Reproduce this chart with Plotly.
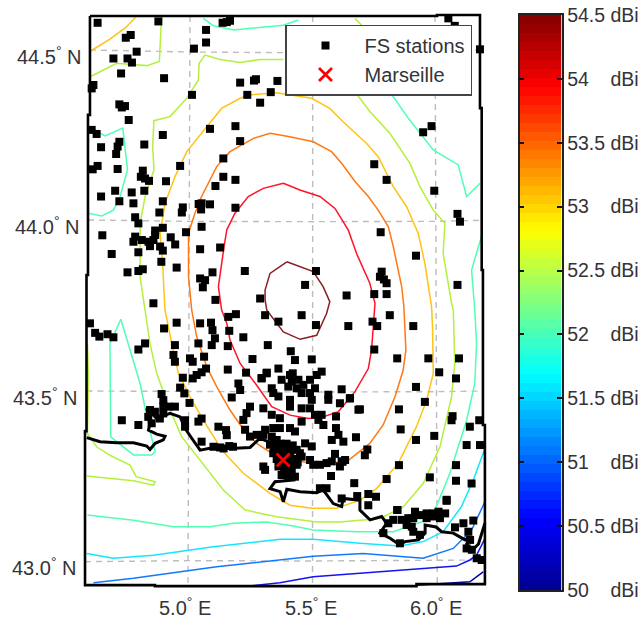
import plotly.graph_objects as go

FONT = "Liberation Sans, Arial, sans-serif"
TEXT = "#333338"

stations_north = [(4.630,44.583),(4.876,44.587),(5.136,44.583),(5.153,44.585),(5.166,44.589),(5.069,44.562),(5.069,44.525),(5.020,44.507),(4.764,44.547),(4.744,44.539),(4.788,44.498),(4.694,44.478),(4.751,44.478),(4.769,44.466),(4.725,44.434),(4.899,44.420),(4.613,44.400),(4.606,44.390),(5.207,44.407),(5.263,44.413),(5.271,44.417),(5.358,44.412),(5.331,44.379),(5.236,44.371),(5.288,44.348),(5.012,44.371),(4.718,44.343),(4.728,44.334),(4.741,44.338),(4.756,44.297),(4.606,44.268),(4.626,44.256),(4.894,44.253),(5.085,44.271),(5.188,44.279),(5.207,44.235),(4.819,44.225),(4.644,44.217),(4.718,44.233),(4.711,44.219),(4.705,44.197),(5.139,44.184),(4.964,44.162),(4.630,44.162),(4.610,44.152),(4.711,44.153),(4.813,44.148),(4.805,44.130),(4.822,44.125),(4.838,44.118),(4.907,44.117),(5.139,44.130),(5.188,44.121),(5.107,44.103),(4.701,44.089),(4.768,44.084),(4.819,44.089),(4.644,44.072),(4.718,44.058),(4.775,44.052),(4.894,44.058),(4.975,44.040),(4.971,44.025),(4.880,44.025),(5.051,44.052),(5.039,44.050),(5.049,44.034),(5.085,44.049),(5.188,44.039),(4.782,44.011),(4.795,43.993),(4.863,43.972),(4.894,43.980),(4.863,43.959),(5.051,43.983),(4.988,43.967),(4.649,43.958),(4.782,43.954),(4.775,43.939),(4.809,43.944),(4.836,43.939),(4.856,43.944),(4.842,43.926),(4.883,43.925),(4.926,43.952),(4.944,43.931),(4.894,43.913),(5.045,43.917),(5.126,43.922),(4.795,43.908),(4.687,43.903),(4.888,43.880),(4.950,43.863),(4.795,43.853),(4.813,43.858),(4.751,43.849),(5.045,43.831),(5.065,43.826),(5.056,43.805),(5.095,43.849),(5.226,43.853),(5.470,43.812),(5.514,43.853),(5.288,43.772),(5.107,43.768),(4.856,43.758)]

stations_northeast = [(6.050,44.596),(6.076,44.574),(5.688,44.383),(5.672,44.383),(6.178,44.505),(5.982,44.279),(5.948,44.261),(5.750,44.167),(5.800,44.121),(5.993,44.089),(6.087,44.021),(6.097,43.998),(5.776,43.967),(5.919,43.898),(5.780,43.851),(5.773,43.836),(5.789,43.828),(5.800,43.817),(6.087,43.812),(5.638,43.781),(5.750,43.785),(5.800,43.785)]

stations_southwest = [(4.599,43.699),(4.620,43.671),(4.637,43.660),(4.670,43.667),(4.694,43.658),(4.822,43.640),(4.795,43.622),(4.899,43.684),(4.950,43.701),(5.045,43.699),(5.089,43.701),(5.095,43.679),(5.105,43.655),(5.092,43.635),(5.163,43.677),(5.159,43.718),(5.190,43.726),(5.308,43.723),(5.362,43.704),(5.456,43.723),(5.514,43.694),(4.943,43.635),(5.038,43.640),(5.157,43.632),(5.220,43.658),(5.319,43.635),(5.412,43.617),(5.257,43.594),(5.429,43.591),(5.497,43.593),(4.937,43.606),(4.943,43.586),(5.004,43.596),(5.015,43.586),(5.061,43.601),(5.069,43.566),(5.051,43.555),(5.031,43.547),(5.015,43.537),(4.975,43.539),(5.157,43.563),(5.231,43.554),(5.315,43.554),(5.294,43.537),(5.362,43.566),(5.420,43.552),(5.200,43.522),(5.207,43.503),(4.964,43.510),(4.981,43.493),(5.002,43.465),(5.173,43.481),(5.051,43.419),(5.038,43.410),(5.119,43.395),(5.150,43.385),(5.153,43.370),(5.051,43.351),(5.099,43.336),(5.126,43.334),(5.163,43.338),(4.728,43.414),(4.795,43.400)]

stations_berre = [(4.842,43.444),(4.862,43.439),(4.882,43.419),(4.835,43.424),(4.849,43.405),(4.889,43.491),(4.896,43.473),(4.896,43.454),(4.896,43.434),(4.916,43.454),(4.943,43.454),(4.984,43.414),(4.984,43.395),(5.140,43.331),(5.178,43.336)]

stations_marseille = [(5.375,43.533),(5.409,43.547),(5.416,43.528),(5.443,43.533),(5.402,43.513),(5.436,43.508),(5.463,43.518),(5.490,43.533),(5.517,43.547),(5.537,43.557),(5.510,43.508),(5.314,43.552),(5.294,43.538),
(5.335,43.508),(5.341,43.494),(5.362,43.484),(5.409,43.474),(5.409,43.454),(5.456,43.494),(5.490,43.494),(5.497,43.474),(5.456,43.449),(5.490,43.449),(5.564,43.489),(5.564,43.474),(5.611,43.464),(5.652,43.479),(5.618,43.505),(5.686,43.445),(5.301,43.449),(5.335,43.430),(5.368,43.420),(5.456,43.410),(5.510,43.430),(5.537,43.430),(5.524,43.415),(5.544,43.400),(5.595,43.425),(5.595,43.391),(5.605,43.371),(5.625,43.351),(5.578,43.356),(5.676,43.364),
(5.247,43.454),(5.233,43.435),(5.220,43.415),(5.227,43.386),(5.247,43.366),(5.274,43.371),(5.308,43.386),(5.341,43.391),(5.368,43.391),(5.409,43.391),(5.429,43.381),(5.335,43.366),(5.301,43.371),
(5.355,43.356),(5.328,43.342),(5.382,43.337),(5.409,43.337),(5.436,43.327),(5.341,43.317),(5.456,43.307),(5.470,43.346),(5.497,43.337),(5.490,43.297),(5.362,43.278),(5.389,43.278),(5.416,43.268),(5.436,43.283),(5.375,43.253),(5.402,43.248),(5.429,43.248),(5.449,43.317),(5.301,43.278),(5.308,43.268),
(5.360,43.330),(5.385,43.315),(5.410,43.315),(5.375,43.295),(5.400,43.295),(5.425,43.300),(5.440,43.290),(5.365,43.310),(5.355,43.300),(5.345,43.330),(5.370,43.345),(5.395,43.345),(5.420,43.340),(5.385,43.265),(5.410,43.285),(5.395,43.260),(5.345,43.345),
(5.503,43.283),(5.530,43.283),(5.557,43.288),(5.591,43.315),(5.578,43.293),(5.618,43.293),(5.611,43.278),(5.632,43.297),(5.575,43.250),(5.669,43.229),(5.530,43.214),(5.557,43.214)]

stations_southeast = [(5.813,43.723),(5.645,43.691),(5.743,43.704),(5.762,43.691),(5.843,43.596),(5.969,43.596),(6.093,43.596),(5.750,43.622),(5.908,43.691),(6.013,43.555),(6.081,43.537),(5.919,43.512),(5.651,43.478),(5.955,43.468),(5.692,43.446),(5.850,43.446),(6.067,43.426),(6.063,43.414),(6.175,43.414),(6.137,43.395),(5.857,43.387),(5.993,43.368),(5.919,43.356),(6.178,43.341),(6.124,43.341),(5.722,43.328),(5.712,43.311),(6.081,43.282),(5.850,43.282),(5.622,43.292),(5.975,43.246),(5.800,43.241),(6.081,43.236),(6.144,43.228),(6.043,43.177),(5.843,43.150),(5.726,43.164),(5.757,43.189),(5.726,43.197),(5.681,43.191),(5.618,43.184)]

stations_toulon = [(5.844,43.150),(6.043,43.180),(5.915,43.145),(5.962,43.140),(5.989,43.140),(6.010,43.145),(6.037,43.140),(5.827,43.121),(5.861,43.121),(5.888,43.126),(5.908,43.126),(5.935,43.135),(5.962,43.126),(5.989,43.131),(6.016,43.126),(5.807,43.111),(5.881,43.106),(5.902,43.101),(5.908,43.086),(5.935,43.077),(5.787,43.082),(5.854,43.052),(6.077,43.099),(6.111,43.111),(6.151,43.119),(6.131,43.086),(6.138,43.062),(6.124,43.037),(6.145,43.033),(6.165,43.008),(6.185,43.003)]

marseille = (5.381, 43.297)

coastline = [(4.586,43.363),(4.640,43.351),(4.707,43.348),(4.775,43.348),(4.829,43.338),(4.842,43.328),(4.863,43.346),(4.896,43.356),(4.903,43.367),(4.869,43.373),(4.836,43.385),(4.842,43.405),(4.836,43.424),(4.829,43.449),(4.869,43.419),(4.923,43.434),(4.964,43.424),(4.984,43.390),(5.011,43.361),(5.045,43.326),(5.099,43.334),(5.166,43.331),(5.247,43.334),(5.288,43.361),(5.340,43.345),(5.423,43.238),(5.348,43.233),(5.328,43.213),(5.369,43.204),(5.382,43.174),(5.396,43.211),(5.450,43.204),(5.517,43.201),(5.543,43.209),(5.584,43.169),(5.618,43.160),(5.624,43.184),(5.692,43.179),(5.692,43.150),(5.733,43.121),(5.780,43.131),(5.800,43.111),(5.773,43.082),(5.814,43.067),(5.854,43.047),(5.875,43.057),(5.929,43.062),(5.956,43.082),(5.956,43.106),(6.000,43.100),(6.023,43.086),(6.070,43.082),(6.118,43.062),(6.138,43.072),(6.124,43.050),(6.145,43.030),(6.172,43.050),(6.198,43.111)]

contour_darkred = [[(5.396,43.880),(5.328,43.846),(5.308,43.797),(5.308,43.768),(5.315,43.738),(5.335,43.718),(5.382,43.674),(5.450,43.652),(5.517,43.664),(5.557,43.728),(5.570,43.763),(5.543,43.807),(5.503,43.851),(5.396,43.880)]]
contour_red = [[(5.382,44.111),(5.301,44.096),(5.240,44.072),(5.186,44.023),(5.153,43.974),(5.142,43.925),(5.119,43.807),(5.132,43.738),(5.153,43.699),(5.166,43.650),(5.207,43.581),(5.274,43.517),(5.335,43.454),(5.409,43.429),(5.483,43.419),(5.543,43.424),(5.604,43.439),(5.672,43.498),(5.726,43.566),(5.739,43.620),(5.746,43.689),(5.753,43.758),(5.732,43.817),(5.678,43.905),(5.645,43.973),(5.591,44.037),(5.530,44.072),(5.449,44.091),(5.382,44.111)]]
contour_orange = [[(5.328,44.258),(5.261,44.243),(5.166,44.204),(5.112,44.160),(5.051,44.072),(5.024,44.023),(4.998,43.964),(4.998,43.836),(5.011,43.738),(5.031,43.660),(5.072,43.571),(5.112,43.513),(5.166,43.444),(5.213,43.395),(5.274,43.346),(5.355,43.307),(5.496,43.287),(5.638,43.292),(5.732,43.346),(5.786,43.400),(5.834,43.483),(5.867,43.561),(5.878,43.620),(5.874,43.718),(5.870,43.748),(5.861,43.807),(5.827,43.925),(5.807,43.983),(5.766,44.032),(5.726,44.072),(5.672,44.116),(5.618,44.170),(5.577,44.204),(5.503,44.233),(5.408,44.248),(5.328,44.258)]]
contour_amber = [[(5.355,44.377),(5.247,44.371),(5.207,44.361),(5.132,44.331),(5.072,44.277),(4.991,44.204),(4.943,44.130),(4.903,44.052),(4.883,43.964),(4.894,43.866),(4.899,43.787),(4.903,43.738),(4.930,43.640),(4.957,43.552),(5.004,43.483),(5.058,43.414),(5.139,43.321),(5.220,43.258),(5.328,43.199),(5.409,43.164),(5.497,43.155),(5.597,43.155),(5.692,43.179),(5.759,43.213),(5.847,43.287),(5.921,43.395),(5.962,43.473),(5.989,43.552),(5.986,43.689),(5.982,43.748),(5.955,43.875),(5.928,43.964),(5.881,44.042),(5.827,44.101),(5.766,44.189),(5.719,44.228),(5.624,44.292),(5.570,44.331),(5.496,44.361),(5.355,44.377)],
                 [(4.602,44.500),(4.680,44.535),(4.745,44.570),(4.785,44.600)]]
contour_lime = [[(4.602,44.425),(4.707,44.464),(4.829,44.457),(4.880,44.469),(4.887,44.576),(4.889,44.600)],
                [(5.382,44.475),(5.288,44.475),(5.207,44.466),(5.126,44.475),(5.065,44.488),(5.041,44.464),(5.038,44.415),(4.991,44.361),(4.923,44.307),(4.858,44.295),(4.853,44.219),(4.858,44.150),(4.822,44.071),(4.802,43.993),(4.802,43.836),(4.822,43.733),(4.842,43.640),(4.869,43.552),(4.923,43.444),(4.971,43.365),(5.045,43.297),(5.139,43.209),(5.227,43.150),(5.355,43.130),(5.517,43.115),(5.611,43.115),(5.692,43.120),(5.773,43.125),(5.867,43.159),(5.948,43.228),(6.016,43.336),(6.063,43.483),(6.076,43.581),(6.072,43.669),(6.070,43.738),(6.063,43.758),(6.029,43.905),(6.036,43.993),(5.989,44.032),(5.935,44.101),(5.894,44.170),(5.813,44.258),(5.732,44.322),(5.672,44.380)],
                [(5.672,44.596),(5.699,44.576)],
                [(4.589,43.640),(4.593,43.542),(4.589,43.375),(4.626,43.336),(4.680,43.311),(4.761,43.282),(4.786,43.248),(4.863,43.233),(4.856,43.223),(4.775,43.236),(4.586,43.250)]]
contour_aqua = [[(5.058,44.596),(5.099,44.574),(5.180,44.562),(5.261,44.567),(5.382,44.576),(5.443,44.591)],
                [(4.597,44.277),(4.660,44.250),(4.732,44.273),(4.745,44.189),(4.751,44.150),(4.721,44.072),(4.694,44.032),(4.647,44.015),(4.593,44.023)],
                [(4.724,43.711),(4.680,43.640),(4.683,43.365),(4.775,43.312),(4.849,43.312),(4.863,43.321),(4.836,43.400),(4.802,43.522),(4.724,43.711)],
                [(5.813,44.380),(5.888,44.302),(5.989,44.209),(6.090,44.165),(6.124,44.072),(6.178,44.111)],
                [(6.188,43.964),(6.144,43.856),(6.157,43.738),(6.164,43.640),(6.157,43.522),(6.124,43.414),(6.056,43.258),(6.002,43.160),(5.982,43.125),(5.827,43.086),(5.678,43.086),(5.503,43.091),(5.423,43.103),(5.315,43.115),(5.180,43.111),(5.085,43.101),(4.937,43.101),(4.775,43.120),(4.589,43.135)]]
contour_cyan = [[(4.586,43.022),(4.694,43.008),(4.856,43.017),(5.099,43.042),(5.369,43.064),(5.503,43.064),(5.692,43.052),(5.854,43.044),(5.948,43.057),(6.029,43.086),(6.103,43.160),(6.151,43.238),(6.198,43.331)]]
contour_blue = [[(4.613,42.936),(4.775,42.949),(5.112,42.983),(5.368,43.002),(5.503,43.014),(5.705,43.022),(5.948,43.008),(6.070,43.037),(6.144,43.091),(6.198,43.174)]]
contour_deepblue = [[(5.240,42.926),(5.368,42.936),(5.503,42.954),(5.773,42.969),(6.083,42.985),(6.137,43.003),(6.164,43.017),(6.198,43.066)]]
contour_navy = [[(5.921,42.929),(6.137,42.939),(6.191,42.968)]]

contour_sets = [
    (contour_navy, "#0000a8"), (contour_deepblue, "#1414f0"), (contour_blue, "#1478ff"),
    (contour_cyan, "#14e6ff"), (contour_aqua, "#50ffb4"), (contour_lime, "#b4f03c"),
    (contour_amber, "#ffc314"), (contour_orange, "#ff7814"), (contour_red, "#ff1428"),
    (contour_darkred, "#8c1e23"),
]

map_frame = [(4.599,44.603),(6.004,44.603),(6.004,44.606),(6.178,44.606),(6.178,44.332),(6.185,44.332),(6.185,43.856),(6.190,43.856),(6.190,43.400),(6.198,43.400),(6.198,42.932),(5.921,42.932),(5.921,42.926),(4.862,42.926),(4.862,42.929),(4.579,42.929),(4.579,43.382),(4.585,43.382),(4.585,43.841),(4.591,43.841),(4.591,44.312),(4.599,44.312),(4.599,44.603)]

graticule_lon = [[(5.004,44.603),(4.996,42.929)], [(5.501,44.603),(5.500,42.926)], [(5.996,44.603),(6.005,42.930)]]
graticule_lat = [[(4.599,44.503),(5.0,44.497),(5.4,44.495),(5.8,44.497),(6.178,44.503)],
                 [(4.591,44.003),(5.0,43.999),(5.5,43.998),(6.0,43.999),(6.190,44.002)],
                 [(4.585,43.500),(5.0,43.498),(5.5,43.497),(6.0,43.498),(6.190,43.500)],
                 [(4.579,42.998),(5.0,43.001),(5.5,43.000),(6.0,43.001),(6.198,43.003)]]

lat_labels = [("44.5", 4.435, 44.488), ("44.0", 4.427, 43.988), ("43.5", 4.419, 43.485), ("43.0", 4.415, 42.985)]
lon_labels = [("5.0", 4.984, 42.865), ("5.5", 5.494, 42.865), ("6.0", 6.000, 42.865)]

cbar_vals = [50, 50.5, 51, 51.5, 52, 52.5, 53, 53.5, 54, 54.5]
cbar_text = ["50\u00a0\u00a0\u00a0\u00a0dBi", "50.5 dBi", "51\u00a0\u00a0\u00a0\u00a0dBi", "51.5 dBi", "52\u00a0\u00a0\u00a0\u00a0dBi",
             "52.5 dBi", "53\u00a0\u00a0\u00a0\u00a0dBi", "53.5 dBi", "54\u00a0\u00a0\u00a0\u00a0dBi", "54.5 dBi"]
cbar_steps = 64
jet = [[0, "rgb(0,0,143)"], [0.125, "rgb(0,0,255)"], [0.375, "rgb(0,255,255)"], [0.625, "rgb(255,255,0)"], [0.875, "rgb(255,0,0)"], [1, "rgb(128,0,0)"]]

fig = go.Figure()


def polyline(path, color, width, dash=None):
    fig.add_trace(go.Scatter(x=[p[0] for p in path], y=[p[1] for p in path], mode="lines",
                             line=dict(color=color, width=width, dash=dash), showlegend=False, hoverinfo="skip"))


for g in graticule_lon + graticule_lat:
    polyline(g, "#bdbdbd", 1.4, "6px,5px")
for paths, col in contour_sets:
    for p in paths:
        polyline(p, col, 1.5)
polyline(coastline, "#000000", 3)

stations = stations_north + stations_northeast + stations_southwest + stations_berre + stations_marseille + stations_southeast + stations_toulon
fig.add_trace(go.Scatter(x=[p[0] for p in stations], y=[p[1] for p in stations], mode="markers", name="FS stations",
                         marker=dict(symbol="square", size=8, color="black", line=dict(width=0))))
fig.add_trace(go.Scatter(x=[marseille[0]], y=[marseille[1]], mode="markers", name="Marseille",
                         marker=dict(symbol="x-thin", size=13, color="red", line=dict(width=2.8, color="red"))))
polyline(map_frame, "#000000", 2.6)

edges = [50 + 4.5 * i / cbar_steps for i in range(cbar_steps + 1)]
centres = [(edges[i] + edges[i + 1]) / 2 for i in range(cbar_steps)]
fig.add_trace(go.Heatmap(x=[0, 1], y=edges, z=[[c] for c in centres], zmin=50, zmax=54.5, colorscale=jet,
                         showscale=False, xaxis="x2", yaxis="y2", hoverinfo="skip"))

annotations = []
for t, lon, lat in lat_labels:
    annotations.append(dict(x=lon, y=lat, xref="x", yref="y", text=f"{t}<sup>°</sup> N", showarrow=False,
                            font=dict(family=FONT, size=20, color=TEXT)))
for t, lon, lat in lon_labels:
    annotations.append(dict(x=lon, y=lat, xref="x", yref="y", text=f"{t}<sup>°</sup> E", showarrow=False,
                            font=dict(family=FONT, size=20, color=TEXT)))

fig.update_layout(
    width=641, height=619, margin=dict(l=0, r=0, t=0, b=0, autoexpand=False), autosize=False,
    paper_bgcolor="white", plot_bgcolor="white",
    xaxis=dict(domain=[0, 510 / 641], range=[4.2348, 6.2996], visible=False, fixedrange=True),
    yaxis=dict(domain=[0, 1], range=[42.8294, 44.65], visible=False, fixedrange=True),
    xaxis2=dict(domain=[519.5 / 641, 561.5 / 641], range=[0, 1], anchor="y2", showticklabels=False, ticks="",
                showline=True, linecolor="#222", linewidth=1.5, mirror=True, showgrid=False, zeroline=False),
    yaxis2=dict(domain=[1 - 590 / 619, 1 - 15 / 619], range=[50, 54.5], anchor="x2", side="right",
                tickvals=cbar_vals, ticktext=cbar_text, ticks="inside", ticklen=5, tickcolor="#111", tickwidth=1.5,
                showline=True, linecolor="#222", linewidth=1.5, mirror="allticks", showgrid=False, zeroline=False,
                tickfont=dict(family=FONT, size=19.5, color=TEXT)),
    legend=dict(x=285 / 641, y=1 - 24.5 / 619, xanchor="left", yanchor="top", bgcolor="white", bordercolor="#444444",
                borderwidth=1.5, font=dict(family=FONT, size=20, color=TEXT), itemwidth=68,
                entrywidth=118, entrywidthmode="pixels"),
    annotations=annotations,
)

fig.write_html("out.html", config=dict(displayModeBar=False),
               post_script="document.body.style.margin='0';document.documentElement.style.overflow='hidden';")
